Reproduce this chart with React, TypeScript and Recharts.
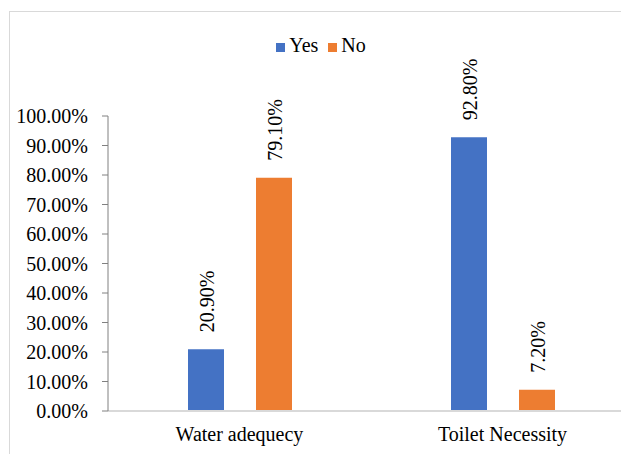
import React from 'react';
import {
  BarChart,
  Bar,
  XAxis,
  YAxis,
  Legend,
  LabelList,
  ReferenceLine,
} from 'recharts';

// Survey answers, in percent
const categories = ['Water adequecy', 'Toilet Necessity'];
const yesValues = [20.9, 92.8];
const noValues = [79.1, 7.2];
const yTicks = [0, 10, 20, 30, 40, 50, 60, 70, 80, 90, 100];
const seriesOrder = ['Yes', 'No'];

const data = categories.map((name, i) => ({
  name,
  yes: yesValues[i],
  no: noValues[i],
}));

const FONT = "'Liberation Serif', 'Times New Roman', Times, 'DejaVu Serif', serif";

// rotated value label sitting above each bar
const VerticalLabel = (props: any) => {
  const { x, y, width, value } = props;
  const cx = x + width / 2 + 1;
  const cy = y - 17;
  return (
    <text
      x={cx}
      y={cy}
      transform={`rotate(-90, ${cx}, ${cy})`}
      textAnchor="start"
      dominantBaseline="central"
      style={{ fontFamily: FONT, fontSize: 20 }}
      fill="#000"
    >
      {`${Number(value).toFixed(2)}%`}
    </text>
  );
};

const App: React.FC = () => {
  return (
    <div
      style={{
        position: 'fixed',
        left: 0,
        top: 0,
        width: 621,
        height: 454,
        overflow: 'hidden',
        background: '#fff',
        fontFamily: FONT,
      }}
    >
      <div
        style={{
          position: 'absolute',
          left: 9,
          top: 11,
          width: 640,
          height: 460,
          border: '1px solid #d9d9d9',
          background: '#fff',
        }}
      >
        <BarChart
          width={640}
          height={460}
          data={data}
          margin={{ top: 104, right: 16, left: 10, bottom: 31 }}
          barSize={36}
          barGap={32}
          style={{ fontFamily: FONT }}
        >
          <XAxis
            dataKey="name"
            height={30}
            axisLine={{ stroke: '#d9d9d9', strokeWidth: 2 }}
            tickLine={false}
            tickSize={5}
            tickMargin={11}
            tick={{ fontSize: 20, fill: '#000', style: { fontFamily: FONT } }}
          />
          {/* hidden numeric axis, only used to place the category divider */}
          <XAxis xAxisId="divider" type="number" domain={[0, 2]} hide />
          <YAxis
            width={88}
            domain={[0, 100]}
            ticks={yTicks}
            interval={0}
            tickFormatter={(v: number) => `${v.toFixed(2)}%`}
            axisLine={{ stroke: '#808080' }}
            tickLine={{ stroke: '#808080' }}
            tickSize={6}
            tickMargin={14}
            tick={{ fontSize: 20, fill: '#000', style: { fontFamily: FONT } }}
          />
          <ReferenceLine
            xAxisId="divider"
            x={1}
            stroke="#d9d9d9"
            strokeWidth={2}
          />
          <Legend
            verticalAlign="middle"
            align="center"
            iconType="square"
            iconSize={9}
            itemSorter={(item: any) => seriesOrder.indexOf(item.value)}
            wrapperStyle={{
              top: 20,
              left: 0,
              width: 632,
              fontFamily: FONT,
              fontSize: 20,
              color: '#000',
              lineHeight: '26px',
            }}
            formatter={(value: string) => <span style={{ color: '#000' }}>{value}</span>}
          />
          <Bar dataKey="yes" name="Yes" fill="#4472C4" isAnimationActive={false}>
            <LabelList dataKey="yes" content={<VerticalLabel />} />
          </Bar>
          <Bar dataKey="no" name="No" fill="#ED7D31" isAnimationActive={false}>
            <LabelList dataKey="no" content={<VerticalLabel />} />
          </Bar>
        </BarChart>
      </div>
    </div>
  );
};

export default App;
